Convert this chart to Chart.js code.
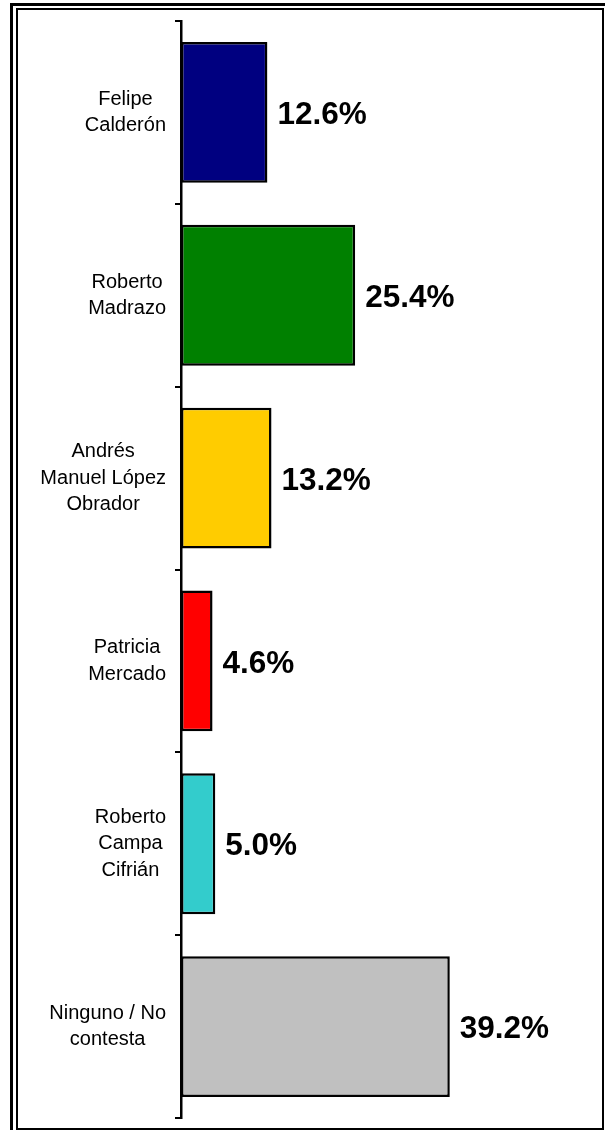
<!DOCTYPE html>
<html>
<head>
<meta charset="utf-8">
<script src="https://cdn.jsdelivr.net/npm/chart.js@4"></script>
<style>
  html, body { margin: 0; padding: 0; background: #fff; overflow: hidden; }
  #wrap { position: relative; width: 605px; height: 1130px; }
  .outer { position: absolute; left: 10px; top: 3px; width: 700px; height: 1200px; border: 3px solid #000; box-sizing: border-box; }
  .inner { position: absolute; left: 16px; top: 8px; width: 588px; height: 1122px; border: 2px solid #000; box-sizing: border-box; }
  canvas { position: absolute; left: 0; top: 0; }
</style>
</head>
<body>
<div id="wrap">
  <div class="outer"></div>
  <div class="inner"></div>
  <canvas id="myChart" width="605" height="1130"></canvas>
</div>
<script>
// candidatos (cada elemento = líneas de la etiqueta)
const candidatos = [
    ['Felipe', 'Calderón'],
    ['Roberto', 'Madrazo'],
    ['Andrés', 'Manuel López', 'Obrador'],
    ['Patricia', 'Mercado'],
    ['Roberto', 'Campa', 'Cifrián'],
    ['Ninguno / No', 'contesta'],
];
const porcentajes = [12.6, 25.4, 13.2, 4.6, 5.0, 39.2];
const colores = ['#000080', '#008000', '#FFCC00', '#FF0000', '#33CCCC', '#C0C0C0'];

const FONT = '"Liberation Sans", Arial, sans-serif';

// etiquetas de categoría: líneas centradas en un bloque alineado a la derecha
const etiquetasPlugin = {
    id: 'etiquetas',
    afterDraw(chart) {
        const ctx = chart.ctx;
        const y = chart.scales.y;
        const x = chart.scales.x;
        const derecha = y.right - 15;
        const alto = 26.5;
        ctx.save();
        ctx.fillStyle = '#000';
        ctx.font = '20px ' + FONT;
        ctx.textAlign = 'center';
        ctx.textBaseline = 'middle';
        candidatos.forEach((lineas, i) => {
            const cy = y.getPixelForTick(i);
            const ancho = Math.max(...lineas.map(l => ctx.measureText(l).width));
            const cx = derecha - ancho / 2;
            lineas.forEach((l, j) => {
                ctx.fillText(l, cx, cy + (j - (lineas.length - 1) / 2) * alto);
            });
        });
        // valores
        ctx.font = 'bold 31.5px ' + FONT;
        ctx.textAlign = 'left';
        porcentajes.forEach((v, i) => {
            ctx.fillText(v.toFixed(1) + '%', x.getPixelForValue(v) + 10, y.getPixelForTick(i) + 3);
        });
        ctx.restore();
    }
};

const ctx = document.getElementById('myChart').getContext('2d');
const myChart = new Chart(ctx, {
    type: 'bar',
    data: {
        labels: candidatos.map(c => c.join(' ')),
        datasets: [
            {
                data: porcentajes,
                backgroundColor: colores,
                borderColor: '#000',
                borderWidth: 2.5,
                borderSkipped: false,
                barPercentage: 0.77,
                categoryPercentage: 1,
            },
        ],
    },
    plugins: [etiquetasPlugin],
    options: {
        indexAxis: 'y',
        responsive: false,
        animation: false,
        layout: {
            padding: { top: 21, bottom: 12, left: 0, right: 16 }
        },
        plugins: {
            legend: { display: false },
            tooltip: { enabled: false },
        },
        scales: {
            x: {
                display: false,
                min: 0,
                max: 59.5,
            },
            y: {
                offset: true,
                afterFit: s => { s.width = 181; },
                grid: {
                    offset: true,
                    drawOnChartArea: false,
                    drawTicks: true,
                    tickLength: 6,
                    color: '#000',
                    lineWidth: 2,
                },
                border: {
                    display: true,
                    color: '#000',
                    width: 2.5,
                },
                ticks: { display: false },
            },
        },
    },
});
</script>
</body>
</html>
